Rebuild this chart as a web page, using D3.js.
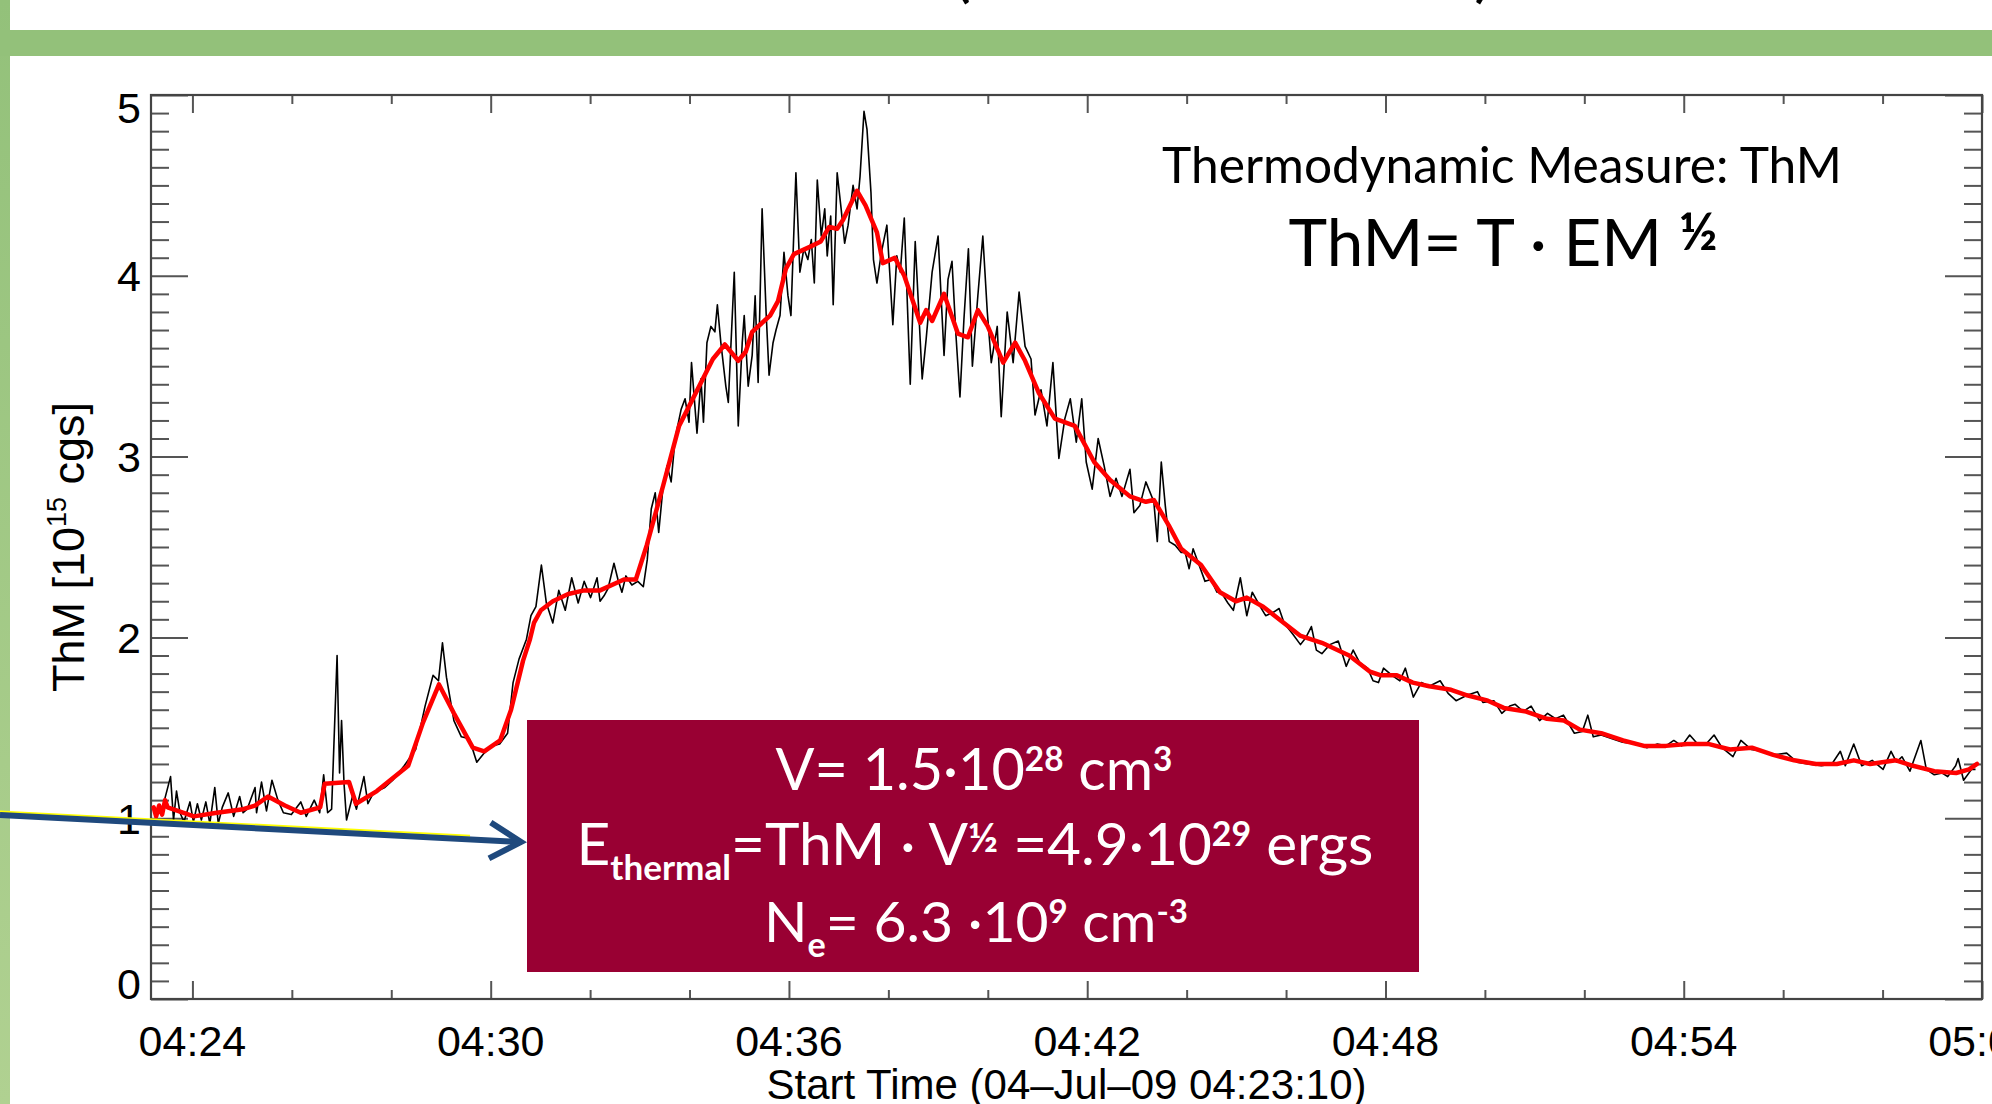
<!DOCTYPE html>
<html><head><meta charset="utf-8">
<script src="https://cdn.jsdelivr.net/npm/d3@7"></script>
<style>
html,body{margin:0;padding:0;background:#fff;overflow:hidden;}
svg{display:block;}
</style></head><body>
<svg id="c" width="1992" height="1104"></svg>
<script>
// ---------------- data ----------------
const startTime = "04:23:10";
const endTime = "05:00:00";
const xTickLabels = ["04:24","04:30","04:36","04:42","04:48","04:54","05:00"];
const yTickValues = [0,1,2,3,4,5];
const yMin = 0, yMax = 5;
const xTitle = "Start Time (04\u2013Jul\u201309 04:23:10)";
const yTitleParts = [{s:"ThM [10"},{s:"15",k:"sup"},{s:" cgs]"}];

// [minutes after 04:00 UT, ThM in 1e15 cgs] : black (raw) curve
const thmRaw = [
[23.40,1.06],[23.56,1.23],[23.62,0.99],[23.68,1.15],[23.75,1.03],[23.83,0.98],[23.95,1.09],[24.02,0.98],[24.10,1.08],[24.18,0.99],
[24.27,1.09],[24.35,0.97],[24.45,1.17],[24.52,0.97],[24.60,1.06],[24.72,1.14],[24.83,1.01],[24.95,1.12],[25.02,1.03],[25.10,1.05],
[25.26,1.17],[25.29,1.03],[25.39,1.20],[25.49,1.04],[25.60,1.21],[25.72,1.10],[25.83,1.03],[25.99,1.02],[26.10,1.06],[26.18,1.09],
[26.29,1.01],[26.45,1.10],[26.56,1.03],[26.64,1.24],[26.72,1.03],[26.80,1.05],[26.91,1.90],[26.96,1.25],[27.00,1.54],[27.05,1.19],
[27.10,0.99],[27.22,1.12],[27.30,1.05],[27.45,1.23],[27.53,1.08],[27.64,1.14],[27.87,1.17],[28.03,1.21],[28.26,1.29],[28.49,1.38],
[28.68,1.62],[28.84,1.79],[28.95,1.76],[29.03,1.97],[29.11,1.78],[29.26,1.54],[29.41,1.45],[29.57,1.44],[29.72,1.31],[29.87,1.36],
[30.03,1.40],[30.18,1.41],[30.34,1.47],[30.45,1.75],[30.57,1.88],[30.72,1.99],[30.81,2.12],[30.91,2.17],[31.02,2.40],[31.12,2.19],
[31.25,2.08],[31.37,2.26],[31.50,2.15],[31.63,2.33],[31.76,2.19],[31.88,2.31],[32.01,2.22],[32.14,2.33],
[32.20,2.20],[32.28,2.23],[32.36,2.27],[32.48,2.41],[32.56,2.32],[32.64,2.25],[32.72,2.34],[32.84,2.29],[32.96,2.31],[33.07,2.28],
[33.15,2.43],[33.23,2.71],[33.31,2.80],[33.38,2.58],[33.47,2.84],[33.55,2.95],[33.63,2.86],[33.71,3.10],[33.83,3.26],[33.91,3.32],
[33.99,3.19],[34.04,3.52],[34.15,3.13],[34.23,3.43],[34.28,3.19],[34.35,3.63],[34.43,3.72],[34.51,3.69],[34.56,3.84],[34.63,3.63],
[34.73,3.39],[34.78,3.30],[34.90,4.02],[34.98,3.17],[35.06,3.63],[35.10,3.78],[35.18,3.39],[35.26,3.56],[35.32,3.89],[35.38,3.41],
[35.46,4.37],[35.54,3.80],[35.60,3.45],[35.68,3.63],[35.74,3.70],[35.82,3.78],[35.90,4.13],[35.98,3.89],[36.04,3.78],[36.14,4.57],
[36.22,4.02],[36.30,4.15],[36.38,4.09],[36.45,4.20],[36.51,3.96],[36.57,4.53],[36.65,4.22],[36.72,4.37],[36.77,4.11],[36.84,4.33],
[36.89,3.84],[36.97,4.57],[37.05,4.37],[37.12,4.18],[37.19,4.28],[37.29,4.50],[37.37,4.37],[37.43,4.55],[37.51,4.91],[37.57,4.81],
[37.65,4.46],[37.70,4.09],[37.77,3.96],[37.86,4.13],[37.97,4.28],[38.09,3.73],[38.17,4.11],[38.24,4.02],[38.32,4.32],[38.44,3.40],
[38.54,4.19],[38.68,3.43],[38.76,3.65],[38.88,4.02],[39.00,4.22],[39.12,3.56],[39.20,3.98],[39.28,4.08],[39.36,3.67],[39.44,3.33],
[39.52,3.76],[39.61,4.15],[39.69,3.50],[39.80,3.89],[39.90,4.22],[39.99,3.80],[40.07,3.52],[40.19,3.72],[40.27,3.22],[40.39,3.80],
[40.51,3.52],[40.63,3.91],[40.75,3.61],[40.87,3.54],[40.95,3.23],[41.07,3.37],[41.19,3.17],[41.31,3.52],[41.43,2.99],[41.55,3.21],
[41.66,3.32],[41.78,3.08],[41.89,3.32],[41.98,2.97],[42.10,2.82],[42.22,3.10],[42.34,2.95],[42.46,2.78],[42.58,2.88],[42.70,2.78],
[42.86,2.93],[42.94,2.69],[43.06,2.73],[43.18,2.86],[43.34,2.75],[43.41,2.53],[43.49,2.97],[43.57,2.73],[43.65,2.53],[43.77,2.51],
[43.89,2.47],[43.97,2.47],[44.05,2.38],[44.13,2.49],[44.25,2.40],[44.37,2.31],[44.49,2.32],[44.61,2.25],
[44.67,2.26],[44.83,2.19],[44.94,2.15],[45.08,2.33],[45.21,2.12],[45.32,2.25],[45.48,2.17],[45.59,2.12],[45.75,2.14],[45.86,2.16],
[45.96,2.08],[46.13,2.02],[46.29,1.96],[46.40,2.00],[46.51,2.06],[46.61,1.93],[46.72,1.91],[46.88,1.96],[47.05,1.98],[47.21,1.84],
[47.35,1.93],[47.48,1.86],[47.64,1.83],[47.75,1.76],[47.86,1.75],[47.96,1.83],[48.13,1.79],[48.29,1.76],[48.40,1.83],[48.56,1.67],
[48.72,1.75],[48.88,1.73],[49.10,1.76],[49.26,1.69],[49.42,1.65],[49.64,1.68],[49.85,1.70],[49.96,1.64],[50.18,1.65],[50.34,1.58],
[50.50,1.62],[50.61,1.63],[50.77,1.59],[50.93,1.62],[51.10,1.54],[51.26,1.58],[51.42,1.55],[51.58,1.57],[51.80,1.47],[51.96,1.48],
[52.07,1.57],[52.18,1.45],[52.34,1.46],[52.56,1.44],[52.77,1.42],[53.04,1.41],[53.26,1.39],[53.47,1.41],[53.64,1.40],[53.80,1.43],
[53.96,1.40],[54.12,1.46],[54.28,1.41],[54.45,1.41],[54.61,1.46],[54.77,1.39],[54.99,1.34],[55.15,1.43],[55.36,1.38],[55.58,1.37],
[55.80,1.35],[56.07,1.36],[56.28,1.31],[56.50,1.30],[56.77,1.29],[56.98,1.30],[57.15,1.37],[57.25,1.29],[57.42,1.41],[57.58,1.29],
[57.79,1.32],[58.01,1.27],[58.17,1.37],[58.28,1.31],[58.39,1.34],[58.55,1.26],[58.77,1.43],[58.88,1.27],[59.04,1.24],[59.20,1.25],
[59.31,1.23],[59.47,1.29],[59.52,1.33],[59.63,1.21],[59.79,1.27],[59.87,1.27]
];

// [minutes after 04:00 UT, ThM] : red (smoothed) curve
const thmSmooth = [
[23.22,1.06],[23.27,1.01],[23.33,1.07],[23.39,1.02],[23.45,1.10],[23.50,1.06],[24.03,1.01],[24.49,1.03],[25.02,1.05],[25.26,1.07],
[25.52,1.12],[25.86,1.07],[26.18,1.03],[26.57,1.06],[26.66,1.19],[27.15,1.20],[27.29,1.08],[27.71,1.15],[28.34,1.29],[28.64,1.53],
[28.96,1.74],[29.26,1.58],[29.64,1.39],[29.87,1.37],[30.19,1.43],[30.41,1.60],[30.65,1.87],[30.79,1.99],[30.87,2.08],[31.01,2.15],
[31.25,2.20],[31.56,2.24],[31.88,2.26],[32.20,2.26],[32.68,2.32],[32.92,2.32],[33.14,2.51],[33.47,2.84],[33.79,3.17],[34.03,3.30],
[34.47,3.54],[34.71,3.62],[34.98,3.53],[35.13,3.58],[35.26,3.69],[35.62,3.78],[35.78,3.86],[35.94,4.04],[36.10,4.12],[36.42,4.16],
[36.64,4.19],[36.81,4.27],[36.97,4.26],[37.09,4.31],[37.37,4.47],[37.54,4.39],[37.77,4.24],[37.89,4.07],[38.13,4.10],[38.32,4.00],
[38.64,3.74],[38.76,3.81],[38.88,3.75],[39.12,3.90],[39.40,3.68],[39.60,3.66],[39.80,3.81],[40.00,3.72],[40.31,3.52],[40.55,3.63],
[40.75,3.53],[41.03,3.35],[41.35,3.21],[41.75,3.17],[42.14,2.97],[42.46,2.87],[42.86,2.78],[43.18,2.75],[43.34,2.76],[43.64,2.62],
[43.89,2.49],[44.29,2.40],[44.67,2.25],[44.99,2.20],[45.21,2.22],[45.54,2.17],[45.86,2.10],[46.28,2.01],[46.72,1.97],[47.27,1.90],
[47.69,1.81],[47.91,1.79],[48.23,1.79],[48.55,1.75],[48.88,1.73],[49.32,1.71],[49.64,1.68],[50.06,1.65],[50.38,1.61],[50.83,1.59],
[51.25,1.55],[51.59,1.54],[51.91,1.49],[52.34,1.47],[52.78,1.43],[53.20,1.40],[53.64,1.40],[54.07,1.41],[54.51,1.41],[54.93,1.38],
[55.37,1.39],[55.80,1.35],[56.22,1.32],[56.66,1.30],[57.08,1.30],[57.42,1.32],[57.75,1.30],[58.27,1.32],[58.61,1.29],[59.04,1.26],
[59.48,1.25],[59.74,1.27],[59.90,1.30]
];

// annotation texts
const noteTitle = [{s:"Thermodynamic Measure: ThM"}];
const noteFormula = [{s:"ThM= T \u00B7 EM "},{s:"\u00BD",k:"half"}];
const boxLine1 = [{s:"V= 1.5\u00B710"},{s:"28",k:"sup"},{s:" cm"},{s:"3",k:"sup"}];
const boxLine2 = [{s:"E"},{s:"thermal",k:"sub"},{s:"=ThM \u00B7 V"},{s:"\u00BD",k:"half"},{s:" =4.9\u00B710"},{s:"29",k:"sup"},{s:" ergs"}];
const boxLine3 = [{s:"N"},{s:"e",k:"sub"},{s:"= 6.3 \u00B710"},{s:"9",k:"sup"},{s:" cm"},{s:"-3",k:"sup"}];

// ---------------- drawing ----------------
const svg = d3.select("#c");
const W = 1992, H = 1104;
const M = {l:151, r:1982, t:95, b:999};
const axisFont = "'Liberation Sans', Arial, sans-serif";
const noteFont = "Lato, 'Open Sans', sans-serif";

const pHMS = d3.utcParse("%H:%M:%S"), pHM = d3.utcParse("%H:%M");
const base = pHMS("04:00:00");
const toDate = m => new Date(+base + m*60000);

const x = d3.scaleUtc().domain([pHMS(startTime), pHMS(endTime)]).range([M.l, M.r]);
const y = d3.scaleLinear().domain([yMin, yMax]).range([M.b, M.t]);

const defs = svg.append("defs");
const grad = defs.append("linearGradient").attr("id","gstrip").attr("x1",0).attr("y1",0).attr("x2",0).attr("y2",1);
grad.append("stop").attr("offset","0%").attr("stop-color","#93c17a");
grad.append("stop").attr("offset","100%").attr("stop-color","#b0d191");
defs.append("clipPath").attr("id","plotclip").append("rect")
  .attr("x",M.l).attr("y",M.t).attr("width",M.r-M.l).attr("height",M.b-M.t);

// slide decorations
svg.append("rect").attr("x",0).attr("y",0).attr("width",W).attr("height",H).attr("fill","#fff");
svg.append("text").attr("x",952).attr("y",-6).attr("font-family",noteFont).attr("font-size",72).attr("fill","#000").text("(");
svg.append("text").attr("x",1474).attr("y",-6).attr("font-family",noteFont).attr("font-size",72).attr("fill","#000").text(")");
svg.append("rect").attr("x",0).attr("y",0).attr("width",10).attr("height",H).attr("fill","url(#gstrip)");
svg.append("rect").attr("x",0).attr("y",30).attr("width",W).attr("height",26).attr("fill","#93c17a");

// ticks
const xMajor = xTickLabels.map(s => pHM(s));
const xMinor = d3.utcMinute.every(2).range(x.domain()[0], new Date(+x.domain()[1]+1))
  .filter(d => d.getUTCMinutes() % 6 !== 0);
const yMinor = d3.range(yMin*10, yMax*10+1).map(i => i/10).filter(v => Math.abs(v-Math.round(v))>1e-6);

function tickGroup(axisFn, scale, values, size, tr){
  const g = svg.append("g").attr("transform", tr)
    .call(axisFn(scale).tickValues(values).tickSize(size).tickFormat(""));
  g.select(".domain").remove();
  g.selectAll(".tick line").attr("stroke","#555").attr("stroke-width",2);
  g.selectAll(".tick text").remove();
}
tickGroup(d3.axisBottom, x, xMajor, -18, `translate(0,${M.b})`);
tickGroup(d3.axisBottom, x, xMinor, -9, `translate(0,${M.b})`);
tickGroup(d3.axisTop, x, xMajor, -18, `translate(0,${M.t})`);
tickGroup(d3.axisTop, x, xMinor, -9, `translate(0,${M.t})`);
tickGroup(d3.axisLeft, y, yTickValues, -37, `translate(${M.l},0)`);
tickGroup(d3.axisLeft, y, yMinor, -18, `translate(${M.l},0)`);
tickGroup(d3.axisRight, y, yTickValues, -37, `translate(${M.r},0)`);
tickGroup(d3.axisRight, y, yMinor, -18, `translate(${M.r},0)`);

// frame
svg.append("rect").attr("x",M.l).attr("y",M.t).attr("width",M.r-M.l).attr("height",M.b-M.t)
  .attr("fill","none").attr("stroke","#444").attr("stroke-width",2.2);

// tick labels
svg.append("g").selectAll("text").data(xTickLabels).join("text")
  .attr("x", d => x(pHM(d))).attr("y", 1056)
  .attr("text-anchor","middle").attr("font-family",axisFont).attr("font-size",43).attr("fill","#000")
  .text(d => d);
svg.append("g").selectAll("text").data(yTickValues).join("text")
  .attr("x", 141).attr("y", d => Math.min(M.b-15, Math.max(M.t+13, y(d))))
  .attr("dy","0.36em")
  .attr("text-anchor","end").attr("font-family",axisFont).attr("font-size",43).attr("fill","#000")
  .text(d => d);

// rich text helper (fits to target width)
function richText(parent, parts, o){
  const t = parent.append("text").attr("font-family",o.family).attr("fill",o.fill).attr("text-anchor","middle");
  if (o.transform) t.attr("transform",o.transform); else t.attr("x",o.x).attr("y",o.y);
  function build(S){
    t.selectAll("tspan").remove();
    t.attr("font-size",S);
    let off = 0;
    parts.forEach(p => {
      let size = S, shift = 0, weight = null;
      if (p.k === "sup"){ size = S*(o.supScale||0.58); shift = -S*(o.supShift||0.33); weight = o.supWeight||"bold"; }
      else if (p.k === "sub"){ size = S*0.6; shift = S*0.26; weight = "bold"; }
      else if (p.k === "half"){ size = S*(o.halfScale||0.72); shift = -S*(o.halfShift||0.22); weight = "bold"; }
      const ts = t.append("tspan").attr("font-size",size).attr("dy",shift-off).text(p.s);
      if (weight) ts.attr("font-weight",weight);
      off = shift;
    });
  }
  build(o.size);
  if (o.width){
    const w = t.node().getComputedTextLength();
    build(o.size*o.width/w);
  }
  return t;
}

// axis titles
svg.append("text").attr("x",(M.l+M.r)/2).attr("y",1099).attr("text-anchor","middle")
  .attr("font-family",axisFont).attr("font-size",42).attr("fill","#000").text(xTitle);
richText(svg, yTitleParts, {family:axisFont, fill:"#000", size:42, width:290,
  transform:`translate(84,${(M.t+M.b)/2}) rotate(-90)`, supScale:0.6, supShift:0.4, supWeight:"normal"});

// data lines
const plot = svg.append("g").attr("clip-path","url(#plotclip)");
const line = d3.line().x(d => x(toDate(d[0]))).y(d => y(d[1]));
plot.append("path").datum(thmRaw).attr("d",line).attr("fill","none")
  .attr("stroke","#000").attr("stroke-width",1.6).attr("stroke-linejoin","round");
plot.append("path").datum(thmSmooth).attr("d",line).attr("fill","none")
  .attr("stroke","#ff0000").attr("stroke-width",4.5).attr("stroke-linejoin","round").attr("stroke-linecap","round");

// annotations
richText(svg, noteTitle, {family:noteFont, fill:"#000", size:50, width:680, x:1502, y:183});
richText(svg, noteFormula, {family:noteFont, fill:"#000", size:70, width:429, x:1503, y:266, halfScale:0.8, halfShift:0.24});

svg.append("rect").attr("x",527).attr("y",720).attr("width",892).attr("height",252).attr("fill","#990033");
richText(svg, boxLine1, {family:noteFont, fill:"#fff", size:56, width:397, x:974, y:790});
richText(svg, boxLine2, {family:noteFont, fill:"#fff", size:56, width:797, x:975, y:865, halfScale:0.7, halfShift:0.22});
richText(svg, boxLine3, {family:noteFont, fill:"#fff", size:56, width:424, x:976, y:942});

// arrow
const a0 = [0,815], a1 = [521,842];
const ang = Math.atan2(a1[1]-a0[1], a1[0]-a0[0]);
const yoff = -3.6;
svg.append("line").attr("x1",a0[0]).attr("y1",a0[1]+yoff).attr("x2",470).attr("y2",a0[1]+yoff+(470-a0[0])*Math.tan(ang))
  .attr("stroke","#ffff00").attr("stroke-width",2);
svg.append("line").attr("x1",a0[0]).attr("y1",a0[1]).attr("x2",a1[0]-3).attr("y2",a1[1]-3*Math.tan(ang))
  .attr("stroke","#1f497d").attr("stroke-width",6);
const armL = 36, spread = 30*Math.PI/180;
const pA = [a1[0]-armL*Math.cos(ang-spread), a1[1]-armL*Math.sin(ang-spread)];
const pB = [a1[0]-armL*Math.cos(ang+spread), a1[1]-armL*Math.sin(ang+spread)];
svg.append("path").attr("d",`M${pA[0]},${pA[1]}L${a1[0]},${a1[1]}L${pB[0]},${pB[1]}`)
  .attr("fill","none").attr("stroke","#1f497d").attr("stroke-width",6).attr("stroke-linejoin","miter");
</script>
</body></html>
